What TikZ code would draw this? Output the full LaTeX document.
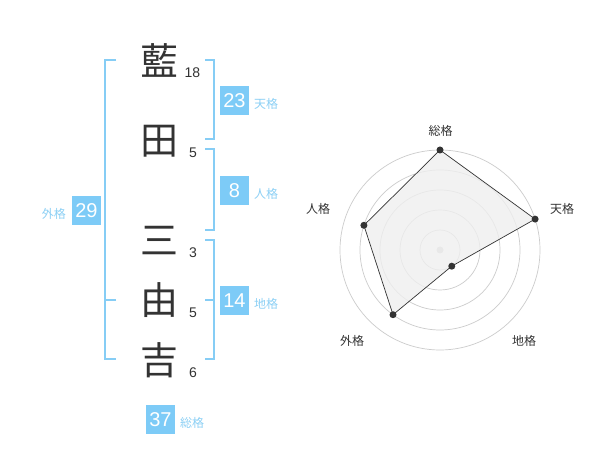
\documentclass[tikz,border=0pt]{standalone}
\usepackage{fontspec}
\usetikzlibrary{calc}
\setmainfont{Liberation Sans}
\newfontfamily\cjk{Noto Sans CJK JP}
\definecolor{bluebox}{HTML}{7DCBF7}
\definecolor{bluelbl}{HTML}{8CD0F5}
\definecolor{blueline}{HTML}{86CDF5}
\definecolor{ink}{HTML}{333333}
\definecolor{ringc}{HTML}{CCCCCC}
\definecolor{areafill}{HTML}{EFEFEF}
\begin{document}
\begin{tikzpicture}[x=1pt,y=-1pt,
  kanji/.style={font=\cjk\fontsize{38}{38}\selectfont, text=ink, inner sep=0pt},
  strokes/.style={font=\fontsize{14}{14}\selectfont, text=ink, inner sep=0pt},
  valbox/.style={fill=bluebox, text=white, minimum width=29pt, minimum height=29pt, inner sep=0pt, font=\fontsize{20}{20}\selectfont},
  kaku/.style={font=\cjk\fontsize{12}{12}\selectfont, text=bluelbl, inner sep=0pt},
  bracket/.style={draw=blueline, line width=2pt},
  ring/.style={draw=ringc, line width=0.7pt},
  axislbl/.style={font=\cjk\fontsize{12}{12}\selectfont, text=ink, inner sep=0pt},
  dot/.style={circle, fill=ink, inner sep=0pt, minimum size=7pt}
]
\useasboundingbox (0,0) rectangle (600,470);
\fill[white] (0,0) rectangle (600,470);

% characters
\node[kanji] (c1) at (159.5,60) {藍};
\node[kanji] (c2) at (159.5,141) {田};
\node[kanji] (c3) at (159.5,241) {三};
\node[kanji] (c4) at (159.5,300) {由};
\node[kanji] (c5) at (159.5,360) {吉};

% stroke counts
\node[strokes] (s1) at (192.5,72.5) {18};
\node[strokes] (s2) at (193,152.5) {5};
\node[strokes] (s3) at (193,252.5) {3};
\node[strokes] (s4) at (193,312.5) {5};
\node[strokes] (s5) at (193,372.5) {6};

% brackets
\coordinate (tA) at (205,60);
\coordinate (tB) at (205,139.5);
\draw[bracket] (tA) -| (214.3,139.5) -- (tB);
\coordinate (jA) at (205,149.5);
\coordinate (jB) at (205,230);
\draw[bracket] (jA) -| (214.3,230) -- (jB);
\coordinate (cA) at (205,240);
\coordinate (cM) at (205,300);
\coordinate (cB) at (205,359.5);
\draw[bracket] (cA) -| (214.3,359.5) -- (cB);
\draw[bracket] (cM) -- (214.3,300);
\coordinate (gA) at (116,60);
\coordinate (gM) at (116,300);
\coordinate (gB) at (116,359.5);
\draw[bracket] (gA) -| (105,359.5) -- (gB);
\draw[bracket] (gM) -- (105,300);

% value boxes
\node[valbox] (v23) at (234.5,100.5) {23};
\node[kaku, anchor=west] (k23) at (254,104) {天格};
\node[valbox] (v8) at (234.5,190.5) {8};
\node[kaku, anchor=west] (k8) at (254,194) {人格};
\node[valbox] (v14) at (234.5,300.3) {14};
\node[kaku, anchor=west] (k14) at (254,303.5) {地格};
\node[valbox] (v29) at (86.5,210.3) {29};
\node[kaku, anchor=east] (k29) at (66,214) {外格};
\node[valbox] (v37) at (160.5,419.3) {37};
\node[kaku, anchor=west] (k37) at (180,423) {総格};

% radar chart
\coordinate (O) at (440,250);
\foreach \r in {20,40,60,80,100} \draw[ring] (O) circle (\r);
\fill[ringc] (O) circle (3.5);
\coordinate (pS) at ($(O)+(0,-100)$);
\coordinate (pT) at ($(O)+(95.1,-30.9)$);
\coordinate (pC) at ($(O)+(11.76,16.18)$);
\coordinate (pG) at ($(O)+(-47.0,64.7)$);
\coordinate (pJ) at ($(O)+(-76.1,-24.7)$);
\filldraw[fill=areafill, fill opacity=0.8, draw=ink, line width=0.7pt] (pS) -- (pT) -- (pC) -- (pG) -- (pJ) -- cycle;
\foreach \p in {pS,pT,pC,pG,pJ} \node[dot] at (\p) {};
\node[axislbl] (aS) at (440.5,130.5) {総格};
\node[axislbl] (aT) at (562,209) {天格};
\node[axislbl] (aC) at (524,341) {地格};
\node[axislbl] (aG) at (352,341) {外格};
\node[axislbl] (aJ) at (318,209) {人格};
\end{tikzpicture}
\end{document}
